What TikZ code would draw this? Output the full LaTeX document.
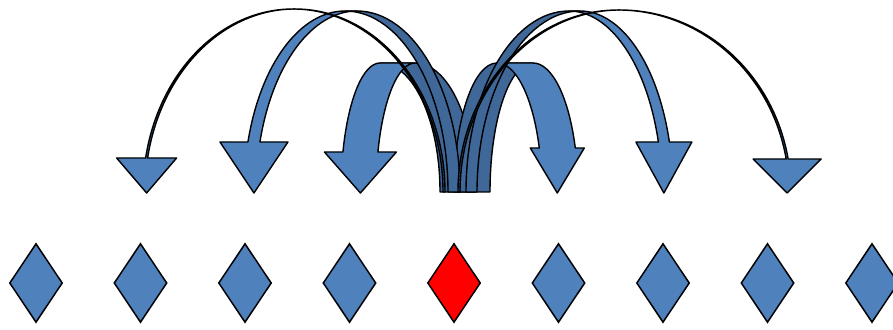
\documentclass[tikz,border=0pt]{standalone}
\usetikzlibrary{shapes.geometric}
\definecolor{cellblue}{HTML}{4F81BD}
\definecolor{cellshade}{HTML}{3F6797}
\tikzset{
  cell/.style={diamond, draw=black, line width=1.5pt, fill=cellblue,
    minimum width=53pt, minimum height=79pt, inner sep=0pt},
  archfront/.style={draw=black, line width=1.4pt, fill=cellblue, line join=round},
  archback/.style={archfront, fill=cellshade}
}
\begin{document}
\begin{tikzpicture}[x=1pt, y=1pt]
  \useasboundingbox (0,0) rectangle (893,329);
  % Row of cells, current cell in red
  \foreach \i in {0,1,2,3,5,6,7,8} \node[cell] (d\i) at (36+104.5*\i,46) {};
  \node[cell, fill=red] (d4) at (454,46) {};
  % Curved jump arrows: top/side/width/head-side radius/foot-side radius/height/head length/head half width
  \foreach \c/\s/\w/\aL/\aR/\b/\ah/\hw in {380/1/35/39/60/129/40/36, 533/-1/36/45/43/129/44/27,
      345/1/12/101/103/181/50/34, 580/-1/11/93/103/181/50/28,
      293/1/2/150/150/183/34/30, 620/-1/2/171/160/182/33/34} {
    \pgfmathsetmacro\th{asin(\ah/\b)}
    \pgfmathsetmacro\co{\aL*cos(\th)}
    \pgfmathsetmacro\xm{\w/2-\co}
    \pgfmathsetmacro\hl{\xm-\hw}
    \pgfmathsetmacro\hr{\xm+\hw}
    \pgfmathsetmacro\xn{\w-\co}
    \pgfmathsetmacro\yn{137+\ah}
    \pgfmathsetmacro\yt{137+\b}
    \pgfmathsetmacro\ea{180-\th}
    \begin{scope}[shift={(\c,0)}, xscale=\s]
      % foot part
      \filldraw[archback] (0,\yt) -- (\w,\yt)
        arc[start angle=90, end angle=0, x radius=\aR, y radius=\b]
        -- (\aR,137) arc[start angle=0, end angle=90, x radius=\aR, y radius=\b] -- cycle;
      % head part
      \filldraw[archfront] (\w,\yt) -- (0,\yt)
        arc[start angle=90, end angle=\ea, x radius=\aL, y radius=\b]
        -- (\hl,\yn) -- (\xm,136) -- (\hr,\yn) -- (\xn,\yn)
        arc[start angle=\ea, end angle=90, x radius=\aL, y radius=\b] -- cycle;
    \end{scope}
  }
\end{tikzpicture}
\end{document}
